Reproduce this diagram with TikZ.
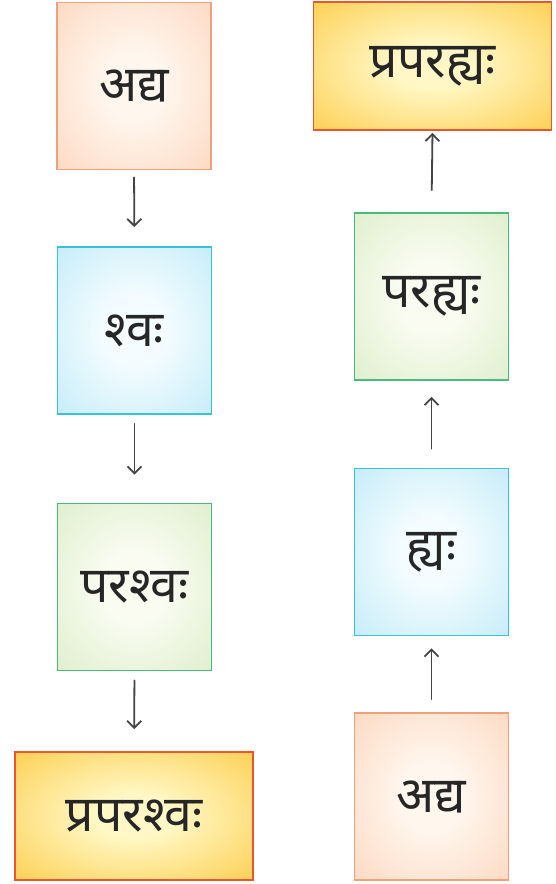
\documentclass[tikz,border=0pt]{standalone}
\usepackage{fontspec}
\newfontfamily\deva[Script=Devanagari]{Noto Sans}
\usetikzlibrary{arrows.meta}
\definecolor{peachB}{HTML}{F0A07A}
\definecolor{peachO}{HTML}{FBC6A4}
\definecolor{peachI}{HTML}{FFF6EE}
\definecolor{blueB}{HTML}{36C2D8}
\definecolor{blueO}{HTML}{A6E2F4}
\definecolor{blueI}{HTML}{F4FCFF}
\definecolor{greenB}{HTML}{48BA7E}
\definecolor{greenO}{HTML}{CCE6B4}
\definecolor{greenI}{HTML}{FAFCF2}
\definecolor{goldB}{HTML}{EC5530}
\definecolor{goldO}{HTML}{FDBE22}
\definecolor{goldI}{HTML}{FFF8C6}
\definecolor{txt}{HTML}{262626}
\definecolor{arr}{HTML}{444444}
\pgfdeclareradialshading{peachsh}{\pgfpoint{0bp}{0bp}}{color(0bp)=(peachI); color(10bp)=(peachI); color(54bp)=(peachO); color(100bp)=(peachO)}
\pgfdeclareradialshading{bluesh}{\pgfpoint{0bp}{0bp}}{color(0bp)=(blueI); color(10bp)=(blueI); color(54bp)=(blueO); color(100bp)=(blueO)}
\pgfdeclareradialshading{greensh}{\pgfpoint{0bp}{0bp}}{color(0bp)=(greenI); color(10bp)=(greenI); color(54bp)=(greenO); color(100bp)=(greenO)}
\pgfdeclareradialshading{goldsh}{\pgfpoint{0bp}{0bp}}{color(0bp)=(goldI); color(8bp)=(goldI); color(48bp)=(goldO); color(100bp)=(goldO)}
\tikzset{
  box/.style={rectangle, inner sep=0pt, line width=1.8pt,
    font=\deva\fontsize{50}{56}\selectfont, text=txt},
  sq/.style={box, minimum width=154pt, minimum height=167pt},
  wide/.style={box, minimum width=238pt, minimum height=128pt},
  peach/.style={draw=peachB, shading=peachsh},
  blue/.style={draw=blueB, shading=bluesh},
  green/.style={draw=greenB, shading=greensh},
  gold/.style={draw=goldB, shading=goldsh},
  link/.style={draw=arr, line width=1.8pt, line cap=round, -{Straight Barb[length=7pt,width=14pt]}}
}
\begin{document}
\begin{tikzpicture}[x=1pt,y=-1pt]
\useasboundingbox (0,0) rectangle (556,884);
% left column
\node[sq,peach] (l1) at (134,86) {अद्य};
\node[sq,blue]  (l2) at (134.5,330.5) {श्वः};
\node[sq,green] (l3) at (134.5,587) {परश्वः};
\node[wide,gold] (l4) at (134,816) {प्रपरश्वः};
% right column
\node[wide,gold] (r4) at (432.5,66) {प्रपरह्यः};
\node[sq,green] (r3) at (431.5,296.5) {परह्यः};
\node[sq,blue]  (r2) at (431.5,552) {ह्यः};
\node[sq,peach] (r1) at (431.5,796.5) {अद्य};
% arrows left (downward)
\draw[link, shorten <=7pt, shorten >=19pt] (l1.south) -- (l2.north);
\draw[link, shorten <=9pt, shorten >=28pt] (l2.south) -- (l3.north);
\draw[link, shorten <=9pt, shorten >=22pt] (l3.south) -- (l4.north);
% arrows right (upward)
\draw[link, shorten <=13pt, shorten >=12pt] (r1.north) -- (r2.south);
\draw[link, shorten <=19pt, shorten >=16pt] (r2.north) -- (r3.south);
\draw[link, shorten <=22pt, shorten >=2pt] (r3.north) -- (r4.south);
\end{tikzpicture}
\end{document}
